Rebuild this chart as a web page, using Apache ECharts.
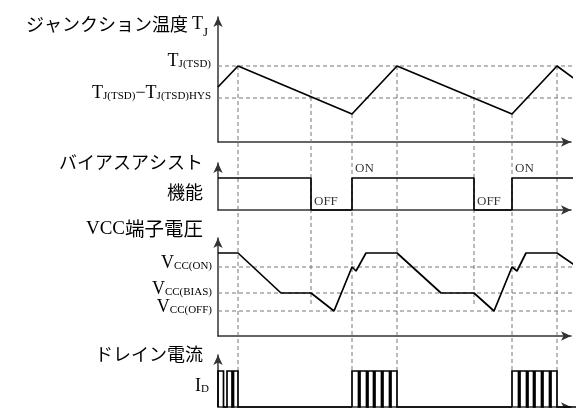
<!DOCTYPE html>
<html><head><meta charset="utf-8">
<script src="https://cdn.jsdelivr.net/npm/echarts@6/dist/echarts.min.js"></script>
<style>html,body{margin:0;padding:0;background:#fff}#c{width:580px;height:408px}</style>
</head><body><div id="c"></div><script>
// ---- data (time in arbitrary units along the shared time axis) ----
const tjTimes  = [0, 20, 134, 179, 294, 339, 358];
const tjValues = [55, 76, 28, 76, 28, 76, 62];
const tjTsd = 76, tjHys = 44;

const biasTimes  = [0, 93, 93, 134, 134, 256, 256, 294, 294, 362];
const biasValues = [32, 32, 0, 0, 32, 32, 0, 0, 32, 32];
const biasOn = 32, biasOff = 0;
const stateTimes  = [134, 294, 93, 256];
const stateTexts  = ['ON', 'ON', 'OFF', 'OFF'];

const vccTimes  = [0, 20, 63, 93, 116, 134, 138, 148, 179, 223, 256, 276, 294, 299, 308, 339, 358];
const vccValues = [83, 83, 43, 43, 25, 69, 65, 83, 83, 43, 43, 25, 69, 65, 83, 83, 70];
const vccOn = 69, vccBias = 43, vccOffLvl = 25;

const idTop = 36;
const idLabelLevel = 21;
const idEnd = 358;
const idBursts = [[0, 20], [134, 179], [294, 339]];
const idGaps = [
  [[5.5, 9], [14, 15.5]],
  [[140.5, 142], [148.5, 150], [155.5, 157], [163.5, 165], [171.5, 173]],
  [[300.5, 302], [308.5, 310], [315.5, 317], [323.5, 325], [331.5, 333]]
];

// guides: time, [grid, value] start, [grid, value] end
const guideTimes = [20, 93, 134, 179, 256, 294, 339];
const guideFrom  = [[0, 76], [0, 52], [0, 28], [0, 76], [0, 52], [0, 28], [0, 76]];
const guideTo    = [[3, 36], [2, 29], [3, 36], [3, 36], [2, 29], [3, 36], [3, 36]];

// ---- build ----
const zip = (a, b) => a.map((t, i) => [t, b[i]]);
function burstPoints(k) {
  const b = idBursts[k];
  const pts = [[b[0], 0], [b[0], idTop]];
  idGaps[k].forEach(g => { pts.push([g[0], idTop], [g[0], 0], [g[1], 0], [g[1], idTop]); });
  pts.push([b[1], idTop], [b[1], 0]);
  pts.push([k < idBursts.length - 1 ? idBursts[k + 1][0] : idEnd, 0]);
  return pts;
}

const serif = 'Liberation Serif';
const cjk = 'Noto Sans CJK JP';
const rich = {
  m: {fontFamily: serif, fontSize: 18, color: '#000', lineHeight: 18},
  v: {fontFamily: serif, fontSize: 19, color: '#000', lineHeight: 30},
  s: {fontFamily: serif, fontSize: 11, color: '#000', lineHeight: 10, verticalAlign: 'bottom'},
  t: {fontFamily: serif, fontSize: 13, color: '#000', lineHeight: 12, verticalAlign: 'bottom'},
  c: {fontFamily: cjk, fontSize: 18, color: '#000', lineHeight: 30, align: 'right'},
  w: {fontFamily: cjk, fontSize: 19.5, color: '#000', lineHeight: 30}
};
const axisLineStyle = {show: true, symbol: ['none', 'arrow'], symbolSize: [7, 10], lineStyle: {color: '#333', width: 1.5}};
const heights = [125, 47, 98, 52];
const tops = [17, 163, 238, 355];

const xAxis = heights.map((h, i) => ({
  gridIndex: i, type: 'value', min: 0, max: 353,
  axisLine: axisLineStyle, axisTick: {show: false}, axisLabel: {show: false}, splitLine: {show: false}
}));
const yNames = [
  '{c|ジャンクション温度 }{m|T}{t|J}',
  '{c|バイアスアシスト}\n{c|機能}',
  '{v|VCC}{w|端子電圧}',
  '{c|ドレイン電流}'
];
const yNameGaps = [-7, -14, 9, 1];
const yNamePad = [10, 15, 15, 15];
const yLabels = [
  {vals: [tjTsd, tjHys], f: v => v === tjTsd ? '{m|T}{s|J(TSD)}' : '{m|T}{s|J(TSD)}{m|−T}{s|J(TSD)HYS}', margin: 7, pad: [0, 0, 10, 0]},
  {vals: [], f: v => '', margin: 7, pad: 0},
  {vals: [vccOn, vccBias, vccOffLvl], f: v => v === vccOn ? '{m|V}{s|CC(ON)}' : v === vccBias ? '{m|V}{s|CC(BIAS)}' : '{m|V}{s|CC(OFF)}', margin: 6, pad: [0, 0, 8, 0]},
  {vals: [idLabelLevel], f: v => '{m|I}{s|D}', margin: 9, pad: 0}
];
const yAxis = heights.map((h, i) => ({
  gridIndex: i, type: 'value', min: 0, max: h,
  name: yNames[i], nameLocation: 'end', nameGap: yNameGaps[i],
  nameTextStyle: {align: 'right', verticalAlign: 'middle', padding: [0, yNamePad[i], 0, 0], rich: rich},
  axisLine: axisLineStyle, axisTick: {show: false}, splitLine: {show: false},
  axisLabel: {show: yLabels[i].vals.length > 0, customValues: yLabels[i].vals, formatter: yLabels[i].f,
              margin: yLabels[i].margin, padding: yLabels[i].pad, rich: rich}
}));

const sig = (data, g) => ({type: 'line', xAxisIndex: g, yAxisIndex: g, data: data, showSymbol: false, clip: false,
  lineStyle: {color: '#000', width: 1.7}, z: 3, animation: false});
const dash = (v, g, end) => ({type: 'line', xAxisIndex: g, yAxisIndex: g, data: [[0, v], [end, v]], showSymbol: false, clip: false,
  lineStyle: {color: '#777', width: 1, type: [4, 3]}, z: 1, animation: false, silent: true});

const series = [
  dash(tjTsd, 0, 355), dash(tjHys, 0, 355),
  dash(vccOn, 2, 359), dash(vccBias, 2, 359), dash(vccOffLvl, 2, 359),
  sig(zip(tjTimes, tjValues), 0),
  sig(zip(biasTimes, biasValues), 1),
  sig(zip(vccTimes, vccValues), 2),
  {type: 'custom', xAxisIndex: 3, yAxisIndex: 3, z: 3, animation: false, silent: true,
   data: idBursts.map((b, k) => [b[0], k]),
   renderItem: (params, api) => {
     const k = params.dataIndex;
     const pts = burstPoints(k).map(p => api.coord(p));
     return {type: 'polyline', shape: {points: pts}, style: {stroke: '#000', lineWidth: 1.7, fill: null}};
   }},
  {type: 'scatter', xAxisIndex: 1, yAxisIndex: 1, symbolSize: 0, z: 4, animation: false,
   data: stateTimes.map((t, i) => ({
     value: [t, stateTexts[i] === 'ON' ? biasOn : biasOff],
     label: {show: true, formatter: stateTexts[i], position: 'right', distance: 3,
             offset: [0, stateTexts[i] === 'ON' ? -9 : -8],
             fontFamily: serif, fontSize: 13, color: '#000'}
   }))}
];

const chart = echarts.init(document.getElementById('c'), null, {renderer: 'canvas'});
chart.setOption({
  animation: false,
  backgroundColor: '#fff',
  grid: heights.map((h, i) => ({left: 218, top: tops[i], width: 353, height: h})),
  xAxis: xAxis, yAxis: yAxis, series: series
});
const graphics = guideTimes.map((t, i) => {
  const p1 = chart.convertToPixel({gridIndex: guideFrom[i][0]}, [t, guideFrom[i][1]]);
  const p2 = chart.convertToPixel({gridIndex: guideTo[i][0]}, [t, guideTo[i][1]]);
  return {type: 'line', silent: true, z: 1,
    shape: {x1: p1[0], y1: p1[1], x2: p2[0], y2: p2[1]},
    style: {stroke: '#777', lineWidth: 1, lineDash: [4, 3]}};
});
chart.setOption({graphic: graphics});
</script></body></html>
